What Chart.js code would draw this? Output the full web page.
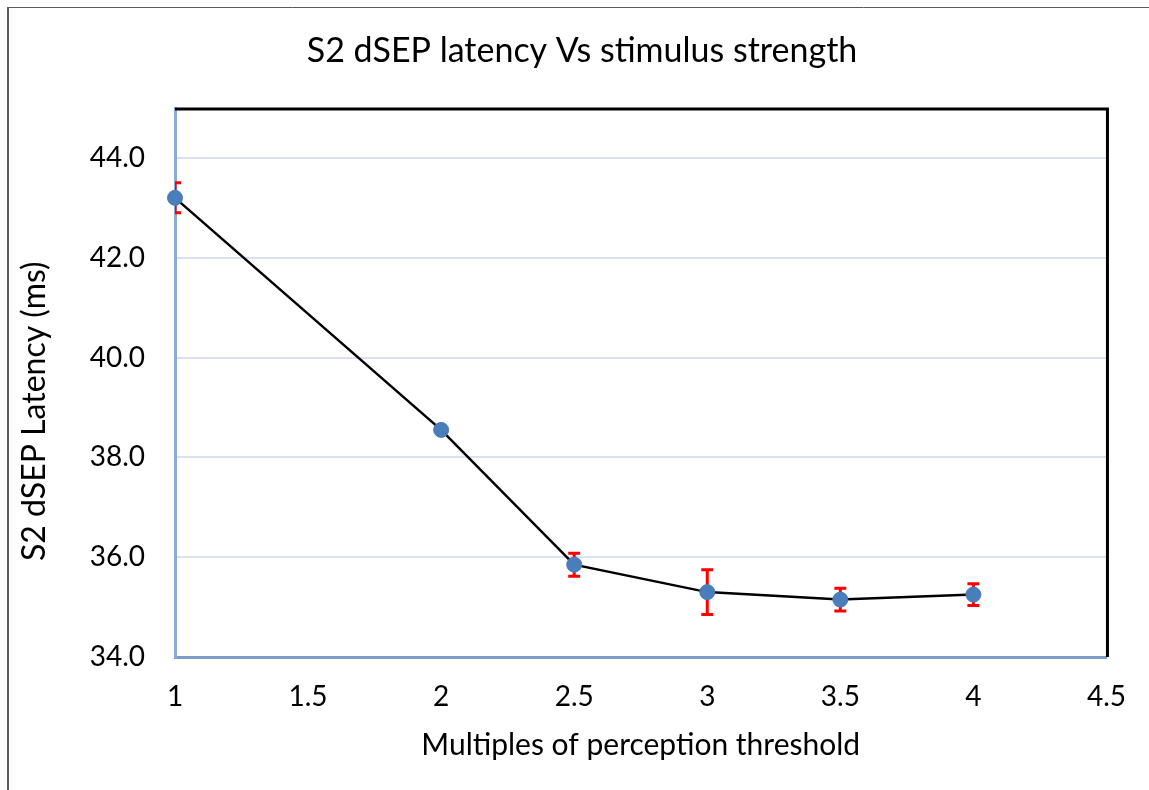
<!DOCTYPE html>
<html>
<head>
<meta charset="utf-8">
<title>S2 dSEP latency</title>
<script src="https://cdn.jsdelivr.net/npm/chart.js@4.4.0/dist/chart.umd.min.js"></script>
<style>
  body { margin: 0; background: #fff; }
  #wrap { width: 1149px; height: 790px; }
</style>
</head>
<body>
<div id="wrap"><canvas id="myChart" width="1149" height="790"></canvas></div>
<script>
// data
var multiples = [1, 2, 2.5, 3, 3.5, 4];
var latency = [43.2, 38.55, 35.85, 35.3, 35.15, 35.25];
var errBars = [0.3, 0, 0.23, 0.45, 0.23, 0.22];
var xTicks = [1, 1.5, 2, 2.5, 3, 3.5, 4, 4.5];
var yTicks = [34, 36, 38, 40, 42, 44];

var FONT = 'Lato, "Open Sans", sans-serif';

// outer frame + black top edge of the plot
var framePlugin = {
  id: 'frame',
  beforeDraw: function(chart) {
    var c = chart.ctx;
    c.save();
    c.fillStyle = '#fff';
    c.fillRect(0, 0, chart.width, chart.height);
    c.strokeStyle = '#595959';
    c.lineWidth = 2;
    c.beginPath();
    c.moveTo(8, 7); c.lineTo(8, chart.height);
    c.stroke();
    c.lineWidth = 1;
    c.beginPath();
    c.moveTo(7, 7.5); c.lineTo(chart.width, 7.5);
    c.stroke();
    c.restore();
  },
  afterDraw: function(chart) {
    var a = chart.chartArea, c = chart.ctx;
    c.save();
    c.strokeStyle = '#000';
    c.lineWidth = 3;
    c.beginPath();
    c.moveTo(a.left, a.top + 1);
    c.lineTo(a.right + 1, a.top + 1);
    c.lineTo(a.right + 1, a.bottom);
    c.stroke();
    c.restore();
  }
};

// red error bars, under the markers
var errorPlugin = {
  id: 'errors',
  beforeDatasetsDraw: function(chart) {
    var xs = chart.scales.x, ys = chart.scales.y, c = chart.ctx, a = chart.chartArea;
    c.save();
    c.beginPath();
    c.rect(a.left, a.top, a.right - a.left, a.bottom - a.top);
    c.clip();
    c.strokeStyle = '#ff0000';
    c.lineWidth = 3;
    for (var i = 0; i < multiples.length; i++) {
      var px = xs.getPixelForValue(multiples[i]);
      var top = ys.getPixelForValue(latency[i] + errBars[i]);
      var bot = ys.getPixelForValue(latency[i] - errBars[i]);
      c.beginPath();
      c.moveTo(px, top); c.lineTo(px, bot);
      c.moveTo(px - 6, top); c.lineTo(px + 6, top);
      c.moveTo(px - 6, bot); c.lineTo(px + 6, bot);
      c.stroke();
    }
    c.restore();
  }
};

var points = multiples.map(function(m, i) { return { x: m, y: latency[i] }; });

var ctx = document.getElementById('myChart').getContext('2d');
var chart = new Chart(ctx, {
  type: 'line',
  data: {
    datasets: [{
      label: 'S2 dSEP latency',
      data: points,
      borderColor: '#000',
      borderWidth: 2.5,
      pointRadius: 7.5,
      pointHoverRadius: 7.5,
      pointBackgroundColor: '#4a7ebb',
      pointBorderColor: '#4a7ebb',
      pointBorderWidth: 1,
      tension: 0,
      clip: false
    }]
  },
  options: {
    responsive: false,
    animation: false,
    layout: { padding: { left: 15, right: 0, top: 0, bottom: 0 } },
    plugins: {
      legend: { display: false },
      tooltip: { enabled: false },
      title: {
        display: true,
        text: 'S2 dSEP latency Vs stimulus strength',
        color: '#000',
        font: { family: FONT, size: 34, weight: 'normal' },
        padding: { top: 30.6, bottom: 36.6 }
      }
    },
    scales: {
      x: {
        type: 'linear',
        min: 1,
        max: 4.5,
        afterFit: function(s) { s.height = 133; },
        afterBuildTicks: function(s) { s.ticks = xTicks.map(function(v) { return { value: v }; }); },
        grid: { display: false, drawTicks: false },
        border: { color: '#7f9bc8', width: 3 },
        ticks: {
          color: '#000',
          padding: 23,
          maxRotation: 0,
          font: { family: FONT, size: 28 },
          callback: function(v) { return String(v); }
        },
        title: {
          display: true,
          text: 'Multiples of perception threshold',
          color: '#000',
          font: { family: FONT, size: 30 },
          padding: { bottom: 27 }
        }
      },
      y: {
        min: 34,
        max: 45,
        afterFit: function(s) { s.width = 160; },
        afterBuildTicks: function(s) { s.ticks = yTicks.map(function(v) { return { value: v }; }); },
        grid: { color: '#d9e2f2', lineWidth: 2, drawTicks: false },
        border: { color: '#8eaadb', width: 3 },
        ticks: {
          color: '#000',
          padding: 30,
          font: { family: FONT, size: 28 },
          callback: function(v) { return v.toFixed(1); }
        },
        title: {
          display: true,
          text: 'S2 dSEP Latency (ms)       ',
          color: '#000',
          font: { family: FONT, size: 32 },
          padding: { top: 0 }
        }
      },
      // empty right-hand axis: keeps room on the right like the original
      yRight: {
        type: 'linear',
        position: 'right',
        min: 34,
        max: 45,
        afterFit: function(s) { s.width = 41; },
        grid: { display: false, drawTicks: false },
        border: { display: false },
        ticks: { display: false }
      }
    }
  },
  plugins: [framePlugin, errorPlugin]
});
</script>
</body>
</html>
